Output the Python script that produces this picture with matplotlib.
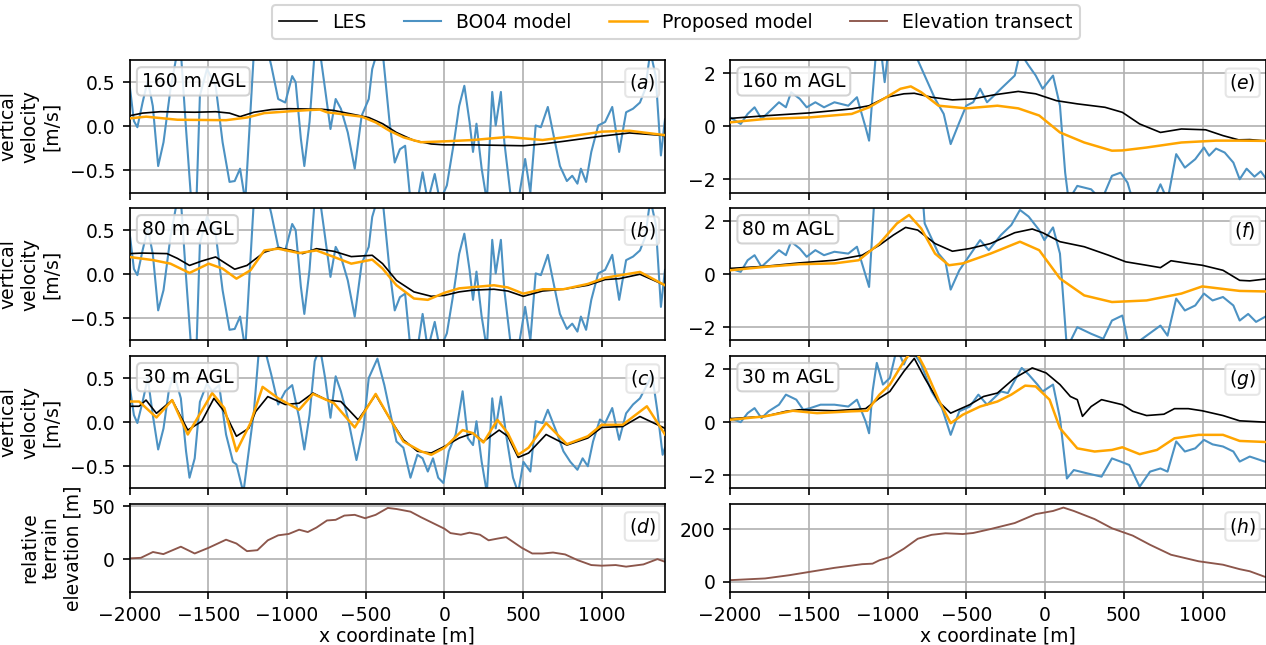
import matplotlib
matplotlib.use('Agg')
import matplotlib.pyplot as plt
from matplotlib.lines import Line2D

plt.rcParams['font.family'] = ['DejaVu Sans']
plt.rcParams['font.size'] = 9

# ---------------- data (x in m, value) ----------------
heights = ["160 m AGL", "80 m AGL", "30 m AGL"]
panel_letters_left = ["a", "b", "c", "d"]
panel_letters_right = ["e", "f", "g", "h"]
xticks = [-2000, -1500, -1000, -500, 0, 500, 1000]

# ---- left transect ----
les_a = [(-2000, 0.12), (-1917, 0.15), (-1806, 0.166), (-1586, 0.16), (-1453, 0.166), (-1365, 0.15),
         (-1298, 0.11), (-1210, 0.16), (-1100, 0.19), (-989, 0.20), (-857, 0.196), (-791, 0.196),
         (-702, 0.18), (-592, 0.14), (-481, 0.10), (-393, 0.03), (-305, -0.07), (-194, -0.16),
         (-84, -0.20), (0, -0.21), (181, -0.21), (500, -0.22), (623, -0.20), (755, -0.17),
         (1000, -0.11), (1175, -0.075), (1400, -0.105)]
prop_a = [(-2000, 0.09), (-1895, 0.11), (-1696, 0.075), (-1387, 0.07), (-1254, 0.10), (-1144, 0.15),
          (-989, 0.17), (-857, 0.185), (-791, 0.19), (-747, 0.16), (-658, 0.14), (-526, 0.11),
          (-437, 0.045), (-349, -0.05), (-260, -0.125), (-150, -0.18), (0, -0.17), (181, -0.155),
          (402, -0.12), (623, -0.155), (755, -0.125), (1000, -0.06), (1175, -0.05), (1400, -0.10)]
bo04_a = [(-2000, 0.48), (-1972, 0.06), (-1950, -0.01), (-1917, 0.27), (-1884, 0.52), (-1852, 0.23),
          (-1818, -0.45), (-1784, -0.18), (-1740, 0.42), (-1696, 0.85), (-1674, 0.85), (-1641, -0.03),
          (-1608, -0.85), (-1575, -0.85), (-1553, 0.35), (-1508, 0.65), (-1453, 0.46), (-1409, -0.18),
          (-1365, -0.63), (-1332, -0.62), (-1298, -0.48), (-1265, -0.85), (-1210, 0.85), (-1166, 0.85),
          (-1122, 0.85), (-1100, 0.69), (-1056, 0.31), (-1011, 0.27), (-967, 0.57), (-945, 0.50),
          (-912, -0.14), (-890, -0.45), (-857, 0.05), (-824, 0.85), (-791, 0.85), (-758, 0.42),
          (-724, -0.03), (-691, 0.31), (-658, 0.20), (-614, -0.07), (-570, -0.48), (-526, 0.12),
          (-481, 0.31), (-459, 0.65), (-426, 0.85), (-393, 0.85), (-349, 0.05), (-316, -0.41),
          (-283, -0.26), (-250, -0.22), (-216, -0.85), (-172, -0.85), (-139, -0.52), (-106, -0.85),
          (-62, -0.54), (-29, -0.85), (15, -0.67), (60, -0.18), (93, 0.23), (126, 0.46), (159, 0.05),
          (181, -0.29), (203, 0.03), (236, -0.48), (269, -0.85), (303, 0.39), (325, 0.01), (358, 0.39),
          (380, -0.18), (424, -0.85), (468, -0.85), (512, -0.37), (545, -0.75), (579, 0.01), (612, -0.01),
          (656, 0.22), (689, -0.07), (733, -0.45), (777, -0.62), (811, -0.56), (844, -0.65), (866, -0.48),
          (899, -0.63), (932, -0.29), (976, 0.01), (1020, 0.05), (1065, 0.22), (1109, -0.29), (1153, 0.16),
          (1197, 0.20), (1241, 0.27), (1274, 0.42), (1307, 0.85), (1341, 0.57), (1374, -0.33), (1400, 0.08)]

les_b = [(-2000, 0.234), (-1917, 0.24), (-1762, 0.234), (-1696, 0.18), (-1619, 0.10), (-1541, 0.15),
         (-1453, 0.196), (-1387, 0.12), (-1332, 0.057), (-1254, 0.10), (-1144, 0.25), (-1056, 0.30),
         (-967, 0.27), (-901, 0.234), (-813, 0.29), (-702, 0.26), (-592, 0.20), (-459, 0.215),
         (-393, 0.12), (-305, -0.07), (-194, -0.20), (-84, -0.25), (0, -0.24), (93, -0.20), (181, -0.18),
         (314, -0.17), (402, -0.19), (500, -0.25), (623, -0.19), (755, -0.17), (910, -0.125),
         (1020, -0.06), (1109, -0.05), (1241, 0.0), (1400, -0.125)]
prop_b = [(-2000, 0.196), (-1850, 0.16), (-1740, 0.12), (-1619, 0.015), (-1497, 0.12), (-1409, 0.064),
          (-1321, -0.05), (-1232, 0.045), (-1144, 0.27), (-1056, 0.29), (-923, 0.24), (-813, 0.27),
          (-702, 0.196), (-592, 0.12), (-459, 0.166), (-393, 0.064), (-305, -0.125), (-194, -0.275),
          (-106, -0.29), (0, -0.21), (93, -0.16), (314, -0.125), (402, -0.15), (500, -0.22), (623, -0.17),
          (755, -0.17), (910, -0.11), (1020, -0.04), (1241, 0.026), (1400, -0.125)]
bo04_b = [(-2000, 0.48), (-1972, 0.06), (-1950, -0.01), (-1917, 0.27), (-1884, 0.52), (-1852, 0.23),
          (-1818, -0.41), (-1784, -0.18), (-1740, 0.42), (-1696, 0.85), (-1674, 0.85), (-1641, -0.03),
          (-1608, -0.85), (-1575, -0.85), (-1553, 0.35), (-1508, 0.65), (-1453, 0.46), (-1409, -0.18),
          (-1365, -0.63), (-1332, -0.62), (-1298, -0.48), (-1265, -0.85), (-1210, 0.85), (-1166, 0.85),
          (-1122, 0.85), (-1100, 0.69), (-1056, 0.31), (-1011, 0.27), (-967, 0.57), (-945, 0.50),
          (-912, -0.14), (-890, -0.45), (-857, 0.05), (-824, 0.85), (-791, 0.85), (-758, 0.42),
          (-724, -0.03), (-691, 0.31), (-658, 0.20), (-614, -0.07), (-570, -0.48), (-526, 0.12),
          (-481, 0.31), (-459, 0.65), (-426, 0.85), (-393, 0.85), (-349, 0.05), (-316, -0.41),
          (-283, -0.26), (-250, -0.22), (-216, -0.85), (-172, -0.85), (-139, -0.45), (-106, -0.85),
          (-62, -0.54), (-29, -0.85), (15, -0.67), (60, -0.18), (93, 0.23), (126, 0.46), (159, 0.05),
          (181, -0.29), (203, 0.03), (236, -0.48), (269, -0.85), (303, 0.39), (325, 0.01), (358, 0.39),
          (380, -0.18), (424, -0.85), (468, -0.85), (512, -0.37), (545, -0.75), (579, 0.01), (612, -0.01),
          (656, 0.22), (689, -0.07), (733, -0.45), (777, -0.62), (811, -0.56), (844, -0.65), (866, -0.48),
          (899, -0.63), (932, -0.29), (976, 0.01), (1020, 0.05), (1065, 0.22), (1109, -0.29), (1153, 0.16),
          (1197, 0.20), (1241, 0.27), (1274, 0.42), (1307, 0.85), (1341, 0.57), (1374, -0.37), (1400, 0.05)]

les_c = [(-2000, 0.18), (-1939, 0.18), (-1895, 0.25), (-1829, 0.10), (-1729, 0.25), (-1630, -0.09),
         (-1541, 0.01), (-1464, 0.27), (-1398, 0.12), (-1321, -0.16), (-1243, -0.07), (-1199, 0.12),
         (-1122, 0.29), (-1011, 0.20), (-923, 0.215), (-835, 0.33), (-746, 0.25), (-658, 0.234),
         (-548, 0.026), (-437, 0.31), (-349, 0.045), (-261, -0.20), (-172, -0.33), (-84, -0.35),
         (0, -0.275), (93, -0.18), (181, -0.125), (247, -0.22), (347, -0.09), (402, -0.16), (468, -0.40),
         (534, -0.35), (645, -0.14), (777, -0.26), (910, -0.18), (998, -0.06), (1131, -0.05),
         (1241, 0.064), (1400, -0.07)]
prop_c = [(-2000, 0.234), (-1939, 0.234), (-1829, 0.053), (-1729, 0.25), (-1630, -0.14), (-1475, 0.33),
          (-1398, 0.16), (-1321, -0.33), (-1232, -0.01), (-1155, 0.40), (-1056, 0.27), (-923, 0.14),
          (-835, 0.32), (-702, 0.215), (-570, -0.06), (-437, 0.32), (-349, 0.045), (-261, -0.22),
          (-150, -0.33), (-84, -0.37), (0, -0.29), (115, -0.09), (181, -0.125), (247, -0.23), (336, 0.026),
          (402, -0.125), (468, -0.37), (534, -0.29), (645, -0.01), (777, -0.25), (910, -0.16), (998, -0.03),
          (1131, -0.03), (1285, 0.18), (1400, -0.14)]
bo04_c = [(-2000, 0.42), (-1972, 0.08), (-1950, -0.01), (-1917, 0.23), (-1884, 0.50), (-1852, 0.08),
          (-1818, -0.31), (-1784, -0.07), (-1751, 0.35), (-1718, 0.55), (-1674, 0.27), (-1641, -0.33),
          (-1619, -0.63), (-1586, -0.41), (-1553, 0.23), (-1508, 0.44), (-1475, 0.35), (-1431, 0.42),
          (-1387, -0.14), (-1343, -0.45), (-1321, -0.48), (-1277, -0.80), (-1243, -0.33), (-1210, 0.12),
          (-1177, 0.85), (-1144, 0.85), (-1100, 0.54), (-1056, 0.20), (-1011, 0.35), (-967, 0.42),
          (-923, 0.05), (-890, -0.31), (-857, 0.08), (-824, 0.69), (-791, 0.85), (-758, 0.50),
          (-724, 0.05), (-691, 0.52), (-658, 0.35), (-614, 0.05), (-559, -0.43), (-515, -0.07),
          (-481, 0.50), (-426, 0.72), (-382, 0.42), (-338, 0.05), (-305, -0.22), (-261, -0.29),
          (-216, -0.63), (-172, -0.37), (-139, -0.41), (-106, -0.56), (-73, -0.41), (-40, -0.63),
          (-7, -0.69), (27, -0.33), (71, -0.14), (115, 0.35), (148, -0.18), (181, -0.26), (203, 0.01),
          (236, -0.45), (269, -0.80), (303, 0.27), (325, -0.07), (358, 0.29), (391, -0.14), (435, -0.63),
          (468, -0.80), (501, -0.45), (545, -0.56), (579, 0.01), (623, -0.01), (656, 0.14), (711, -0.11),
          (755, -0.33), (799, -0.45), (844, -0.54), (877, -0.41), (910, -0.50), (943, -0.22), (987, 0.03),
          (1020, -0.01), (1065, 0.16), (1109, -0.20), (1153, 0.10), (1197, 0.20), (1241, 0.27),
          (1285, 0.42), (1318, 0.54), (1352, 0.12), (1385, -0.37), (1400, -0.29)]

elev_left = [(-2000, 1), (-1928, 1.5), (-1851, 7), (-1785, 5), (-1674, 12), (-1586, 5.6), (-1497, 11),
             (-1387, 18.6), (-1321, 15), (-1254, 7.8), (-1188, 8.7), (-1122, 18), (-1056, 22.7), (-989, 24),
             (-923, 28), (-868, 25.8), (-813, 30), (-746, 36.7), (-691, 37.3), (-636, 41.3), (-570, 42),
             (-504, 38.8), (-437, 42), (-360, 48.5), (-305, 47.5), (-216, 45), (-150, 39.8), (-84, 35),
             (0, 28.9), (38, 24.8), (104, 23.3), (159, 25.2), (225, 23.3), (280, 18), (336, 19.6), (391, 21),
             (490, 11), (557, 5.6), (623, 5.6), (689, 6.5), (766, 4.7), (844, -0.6), (932, -5.3), (998, -5.9),
             (1087, -5.3), (1153, -6.8), (1263, -4.7), (1352, 0.3), (1400, -2.2)]

# ---- right transect ----
les_e = [(-2000, 0.30), (-1777, 0.40), (-1491, 0.51), (-1227, 0.66), (-1117, 0.78), (-1007, 1.10),
         (-896, 1.23), (-830, 1.25), (-720, 1.10), (-588, 1.0), (-456, 1.04), (-324, 1.19), (-170, 1.32),
         (-59, 1.23), (73, 0.97), (205, 0.85), (381, 0.72), (491, 0.53), (601, 0.09), (733, -0.23),
         (866, -0.10), (1020, -0.13), (1130, -0.35), (1229, -0.51), (1300, -0.50), (1400, -0.55)]
prop_e = [(-2000, 0.15), (-1777, 0.28), (-1491, 0.34), (-1227, 0.47), (-1117, 0.72), (-1007, 1.10),
          (-918, 1.42), (-852, 1.51), (-786, 1.29), (-676, 0.78), (-500, 0.68), (-302, 0.78), (-170, 0.68),
          (-37, 0.41), (95, -0.23), (249, -0.61), (425, -0.92), (491, -0.91), (645, -0.80), (866, -0.61),
          (1086, -0.54), (1229, -0.54), (1400, -0.55)]
bo04_e = [(-2000, 0.34), (-1932, 0.09), (-1888, 0.47), (-1844, 0.72), (-1800, 0.28), (-1755, 0.53),
          (-1689, 0.91), (-1645, 0.72), (-1612, 1.29), (-1557, 1.04), (-1513, 0.72), (-1458, 0.91),
          (-1403, 0.72), (-1337, 0.91), (-1249, 0.78), (-1194, 1.10), (-1139, -0.04), (-1117, -0.54),
          (-1095, 1.16), (-1073, 2.8), (-1040, 2.8), (-1018, 1.67), (-996, 2.8), (-830, 2.8), (-764, 1.92),
          (-698, 1.04), (-643, 0.47), (-599, -0.67), (-544, 0.15), (-500, 0.78), (-456, 0.91), (-412, 1.42),
          (-368, 0.91), (-324, 1.16), (-280, 1.42), (-236, 1.67), (-192, 1.92), (-159, 2.8), (-104, 2.30),
          (-59, 1.92), (-15, 1.42), (51, 1.92), (95, 0.78), (128, -1.75), (150, -2.8), (205, -2.25),
          (293, -2.38), (359, -2.8), (425, -1.87), (480, -1.75), (524, -2.13), (557, -2.8), (689, -2.8),
          (733, -2.19), (778, -2.8), (833, -1.05), (888, -1.56), (954, -1.24), (1009, -0.80), (1042, -1.11),
          (1086, -0.84), (1141, -0.99), (1196, -1.37), (1236, -2.0), (1280, -1.6), (1330, -1.9),
          (1370, -1.7), (1400, -1.95)]

les_f = [(-2000, 0.22), (-1777, 0.30), (-1557, 0.43), (-1337, 0.53), (-1161, 0.72), (-1051, 1.10),
         (-963, 1.48), (-885, 1.77), (-808, 1.67), (-698, 1.16), (-588, 0.87), (-478, 0.97), (-346, 1.16),
         (-192, 1.57), (-81, 1.71), (-15, 1.57), (95, 1.23), (249, 1.04), (403, 0.72), (513, 0.47),
         (645, 0.34), (733, 0.25), (800, 0.51), (910, 0.41), (998, 0.34), (1130, 0.15), (1236, -0.23),
         (1300, -0.25), (1400, -0.18)]
prop_f = [(-2000, 0.15), (-1777, 0.28), (-1557, 0.38), (-1337, 0.41), (-1183, 0.53), (-1051, 1.16),
          (-940, 1.92), (-863, 2.24), (-786, 1.73), (-698, 0.78), (-610, 0.34), (-522, 0.41), (-346, 0.78),
          (-159, 1.23), (-37, 0.91), (95, -0.16), (249, -0.80), (425, -1.05), (645, -0.99), (866, -0.73),
          (998, -0.46), (1236, -0.63), (1400, -0.65)]
bo04_f = [(-2000, 0.22), (-1932, 0.09), (-1888, 0.53), (-1844, 0.72), (-1800, 0.28), (-1755, 0.53),
          (-1689, 0.91), (-1645, 0.72), (-1612, 1.23), (-1557, 0.97), (-1513, 0.66), (-1458, 0.91),
          (-1403, 0.72), (-1337, 0.85), (-1249, 0.78), (-1194, 1.04), (-1139, -0.04), (-1117, -0.48),
          (-1084, 2.8), (-775, 2.8), (-764, 1.92), (-676, 0.78), (-632, 0.47), (-599, -0.58), (-544, 0.15),
          (-478, 0.72), (-412, 1.29), (-357, 0.91), (-280, 1.48), (-214, 1.86), (-159, 2.43), (-104, 2.18),
          (-37, 1.67), (-4, 1.29), (51, 1.77), (95, 0.78), (139, -2.8), (205, -2.0), (293, -2.25),
          (370, -2.44), (425, -1.75), (491, -1.56), (535, -2.8), (645, -2.32), (733, -1.94), (778, -2.32),
          (833, -0.92), (888, -1.37), (954, -1.18), (1009, -0.73), (1064, -0.99), (1130, -0.86),
          (1196, -1.18), (1236, -1.75), (1290, -1.5), (1340, -1.8), (1400, -1.6)]

les_g = [(-2000, 0.13), (-1777, 0.22), (-1645, 0.41), (-1557, 0.47), (-1337, 0.43), (-1139, 0.51),
         (-1051, 0.91), (-985, 1.16), (-896, 1.92), (-830, 2.41), (-764, 1.67), (-676, 0.78), (-599, 0.34),
         (-478, 0.66), (-390, 0.97), (-302, 1.10), (-192, 1.67), (-81, 2.05), (7, 1.86), (95, 1.42),
         (161, 0.97), (205, 0.85), (238, 0.22), (293, 0.59), (359, 0.85), (491, 0.66), (557, 0.41),
         (645, 0.25), (755, 0.30), (822, 0.51), (910, 0.51), (998, 0.43), (1130, 0.25), (1236, 0.05),
         (1400, 0.0)]
prop_g = [(-2000, 0.09), (-1777, 0.22), (-1601, 0.43), (-1447, 0.34), (-1227, 0.41), (-1128, 0.43),
          (-1051, 1.04), (-985, 1.42), (-896, 2.30), (-830, 2.8), (-764, 2.05), (-676, 0.85), (-599, -0.04),
          (-522, 0.28), (-412, 0.59), (-302, 0.78), (-214, 1.04), (-126, 1.38), (-59, 1.35), (29, 0.85),
          (95, -0.23), (205, -0.99), (315, -1.11), (425, -1.05), (491, -0.95), (601, -1.21), (711, -1.05),
          (822, -0.61), (976, -0.48), (1130, -0.48), (1236, -0.71), (1400, -0.75)]
bo04_g = [(-2000, 0.15), (-1932, 0.0), (-1888, 0.34), (-1844, 0.53), (-1800, 0.15), (-1755, 0.41),
          (-1689, 0.66), (-1645, 1.04), (-1579, 0.85), (-1535, 0.47), (-1491, 0.53), (-1425, 0.66),
          (-1337, 0.66), (-1249, 0.59), (-1194, 0.85), (-1139, 0.03), (-1117, -0.42), (-1095, 1.16),
          (-1068, 2.24), (-1029, 1.42), (-985, 1.67), (-940, 2.8), (-896, 2.18), (-852, 2.8), (-786, 2.18),
          (-720, 1.16), (-654, 0.53), (-599, -0.48), (-544, 0.41), (-478, 0.59), (-423, 1.04), (-368, 0.66),
          (-280, 1.16), (-236, 1.10), (-148, 2.05), (-104, 1.80), (-48, 1.42), (-15, 1.16), (51, 1.42),
          (95, 0.15), (139, -2.13), (183, -1.81), (271, -1.94), (359, -2.06), (425, -1.37), (480, -1.49),
          (535, -1.62), (601, -2.44), (667, -1.87), (733, -1.75), (778, -1.87), (833, -0.73), (888, -1.11),
          (954, -0.99), (1009, -0.67), (1064, -0.84), (1130, -0.92), (1196, -1.11), (1236, -1.49),
          (1300, -1.3), (1400, -1.5)]

elev_right = [(-2000, 6), (-1777, 12.6), (-1623, 25), (-1491, 38), (-1337, 53), (-1161, 67), (-1095, 69),
              (-1051, 82), (-985, 94), (-896, 126), (-808, 164), (-720, 179), (-632, 185), (-522, 182),
              (-456, 186), (-346, 201), (-192, 224), (-59, 258), (51, 270), (117, 283), (183, 270),
              (315, 239), (425, 204), (557, 176), (667, 141), (800, 103), (976, 78), (1130, 65), (1236, 48),
              (1300, 40), (1400, 18)]

# ---------------- styling ----------------
C_LES = 'black'
C_BO = '#4c92c3'
C_PROP = 'orange'
C_ELEV = '#8c564b'
LW_LES, LW_BO, LW_PROP, LW_ELEV = 0.8, 1.0, 1.2, 0.9

W, H = 1266.0, 645.0
fig = plt.figure(figsize=(W / 150, H / 150), dpi=150)

rows = [(60.2, 192.5), (208.1, 340.4), (356.0, 488.3), (503.9, 591.7)]
cols = [(129.5, 665.0), (730.0, 1265.5)]


def make_ax(c, r):
    x0, x1 = cols[c]
    y0, y1 = rows[r]
    ax = fig.add_axes([x0 / W, 1 - y1 / H, (x1 - x0) / W, (y1 - y0) / H])
    ax.set_xlim(-2000, 1400)
    ax.set_xticks(xticks)
    ax.grid(True, color='#b0b0b0', lw=0.8)
    ax.set_axisbelow(True)
    if r < 3:
        ax.tick_params(labelbottom=False)
    else:
        ax.set_xlabel('x coordinate [m]', labelpad=0.8)
    return ax


def xy(pairs):
    return [p[0] for p in pairs], [p[1] for p in pairs]


def label_boxes(ax, height_text, letter):
    if height_text:
        ax.annotate(height_text, xy=(0, 1), xycoords='axes fraction', xytext=(5.8, -5.6),
                    textcoords='offset points', ha='left', va='top', zorder=10,
                    bbox=dict(boxstyle='round,pad=0.25', fc='white', ec='0.8', alpha=0.85))
    ax.annotate('($%s$)' % letter, xy=(1, 1), xycoords='axes fraction', xytext=(-4.6, -5.8),
                textcoords='offset points', ha='right', va='top', zorder=10,
                bbox=dict(boxstyle='round,pad=0.2', fc='white', ec='0.88', alpha=0.8))


left_sets = [(les_a, bo04_a, prop_a), (les_b, bo04_b, prop_b), (les_c, bo04_c, prop_c)]
right_sets = [(les_e, bo04_e, prop_e), (les_f, bo04_f, prop_f), (les_g, bo04_g, prop_g)]

for r in range(3):
    for c, sets, ylim, ticks in [(0, left_sets, (-0.75, 0.75), [-0.5, 0.0, 0.5]),
                                 (1, right_sets, (-2.5, 2.5), [-2, 0, 2])]:
        ax = make_ax(c, r)
        les, bo, prop = sets[r]
        ax.plot(*xy(bo), color=C_BO, lw=LW_BO, zorder=2)
        ax.plot(*xy(les), color=C_LES, lw=LW_LES, zorder=3)
        ax.plot(*xy(prop), color=C_PROP, lw=LW_PROP, zorder=4)
        ax.set_ylim(*ylim)
        ax.set_yticks(ticks)
        if c == 0:
            ax.set_yticklabels(['\u22120.5', '0.0', '0.5'])
            ax.set_ylabel('vertical\nvelocity\n[m/s]', multialignment='center')
        letter = panel_letters_left[r] if c == 0 else panel_letters_right[r]
        label_boxes(ax, heights[r], letter)

axd = make_ax(0, 3)
axd.plot(*xy(elev_left), color=C_ELEV, lw=LW_ELEV)
axd.set_ylim(-30.4, 52.3)
axd.set_yticks([0, 50])
axd.set_ylabel('relative\nterrain\nelevation [m]', multialignment='center')
label_boxes(axd, None, 'd')

axh = make_ax(1, 3)
axh.plot(*xy(elev_right), color=C_ELEV, lw=LW_ELEV)
axh.set_ylim(-38, 297)
axh.set_yticks([0, 200])
label_boxes(axh, None, 'h')

handles = [Line2D([], [], color=C_LES, lw=LW_LES), Line2D([], [], color=C_BO, lw=LW_BO),
           Line2D([], [], color=C_PROP, lw=LW_PROP), Line2D([], [], color=C_ELEV, lw=LW_ELEV)]
labels = ['LES', 'BO04 model', 'Proposed model', 'Elevation transect']
fig.legend(handles, labels, loc='upper center', bbox_to_anchor=(676 / W, 1 - 5 / H), ncol=4,
           borderaxespad=0, frameon=True)

fig.savefig('out.png', dpi=150)
